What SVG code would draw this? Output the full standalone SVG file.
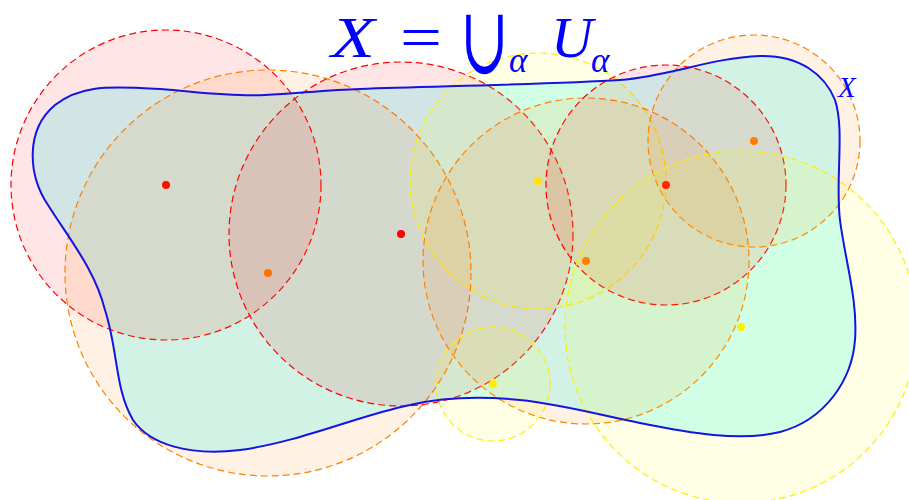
<svg xmlns="http://www.w3.org/2000/svg" width="909" height="500" viewBox="0 0 909 500">
<style>
.u{stroke-width:1.2;stroke-dasharray:7 4}
.r{fill:#ff0000;fill-opacity:0.1;stroke:#ff0000}
.o{fill:#ff8000;fill-opacity:0.1;stroke:#ff8000}
.y{fill:#ffff00;fill-opacity:0.1;stroke:#ffee00}
.dr{fill:#ff0000}.do{fill:#ff8000}.dy{fill:#ffee00}
.t{font-family:"Liberation Serif","DejaVu Serif",serif;fill:#0000ff}
</style>
<defs>
<path id="blob" d="M 140,88 C 180,89 220,97 265,95 C 300,93 330,90 360,89 C 450,86 560,84 620,80 C 670,76 710,58 760,56 C 800,55 825,75 835,100 C 845,130 835,180 840,220 C 845,260 858,300 855,340 C 852,380 825,420 780,432 C 740,442 690,433 640,423 C 600,415 560,404 520,400 C 480,396 440,398 410,405 C 360,415 300,442 240,450 C 190,456 150,445 133,420 C 115,390 118,350 105,310 C 95,270 70,240 48,205 C 28,175 25,130 55,105 C 80,85 110,87 140,88 Z"/>
</defs>
<g id="X-fill"><use href="#blob" fill="#ccffff" stroke="none"/></g>
<g id="U1"><circle class="u r" cx="166" cy="185" r="155"/><circle class="dr" cx="166" cy="185" r="4"/></g>
<g id="U2"><circle class="u o" cx="268" cy="273" r="203"/><circle class="do" cx="268" cy="273" r="4"/></g>
<g id="U3"><circle class="u r" cx="401" cy="234" r="172"/><circle class="dr" cx="401" cy="234" r="4"/></g>
<g id="U4"><circle class="u y" cx="538" cy="181" r="128"/><circle class="dy" cx="538" cy="181" r="4"/></g>
<g id="U5"><circle class="u o" cx="586" cy="261" r="163"/><circle class="do" cx="586" cy="261" r="4"/></g>
<g id="U6"><circle class="u r" cx="666" cy="185" r="120"/><circle class="dr" cx="666" cy="185" r="4"/></g>
<g id="U7"><circle class="u o" cx="754" cy="141" r="106"/><circle class="do" cx="754" cy="141" r="4"/></g>
<g id="U8"><circle class="u y" cx="741" cy="327" r="176"/><circle class="dy" cx="741" cy="327" r="4"/></g>
<g id="U9"><circle class="u y" cx="493" cy="384" r="57"/><circle class="dy" cx="493" cy="384" r="4"/></g>
<g id="X-outline"><use href="#blob" fill="none" stroke="#1414e0" stroke-width="2"/></g>
<g id="title">
<text class="t" x="331" y="57" font-size="58" font-style="italic" textLength="44" lengthAdjust="spacingAndGlyphs">X</text>
<text class="t" x="400" y="57" font-size="60" textLength="42" lengthAdjust="spacingAndGlyphs">=</text>
<text class="t" font-size="60" transform="translate(460,73) scale(0.97,1.58)" style='font-family:"DejaVu Serif",serif'>∪</text>
<text class="t" x="509" y="72" font-size="35" font-style="italic">α</text>
<text class="t" x="551" y="57" font-size="58" font-style="italic">U</text>
<text class="t" x="591" y="72" font-size="35" font-style="italic">α</text>
</g>
<g id="X-label"><text class="t" x="838" y="97" font-size="29" font-style="italic">X</text></g>
</svg>
